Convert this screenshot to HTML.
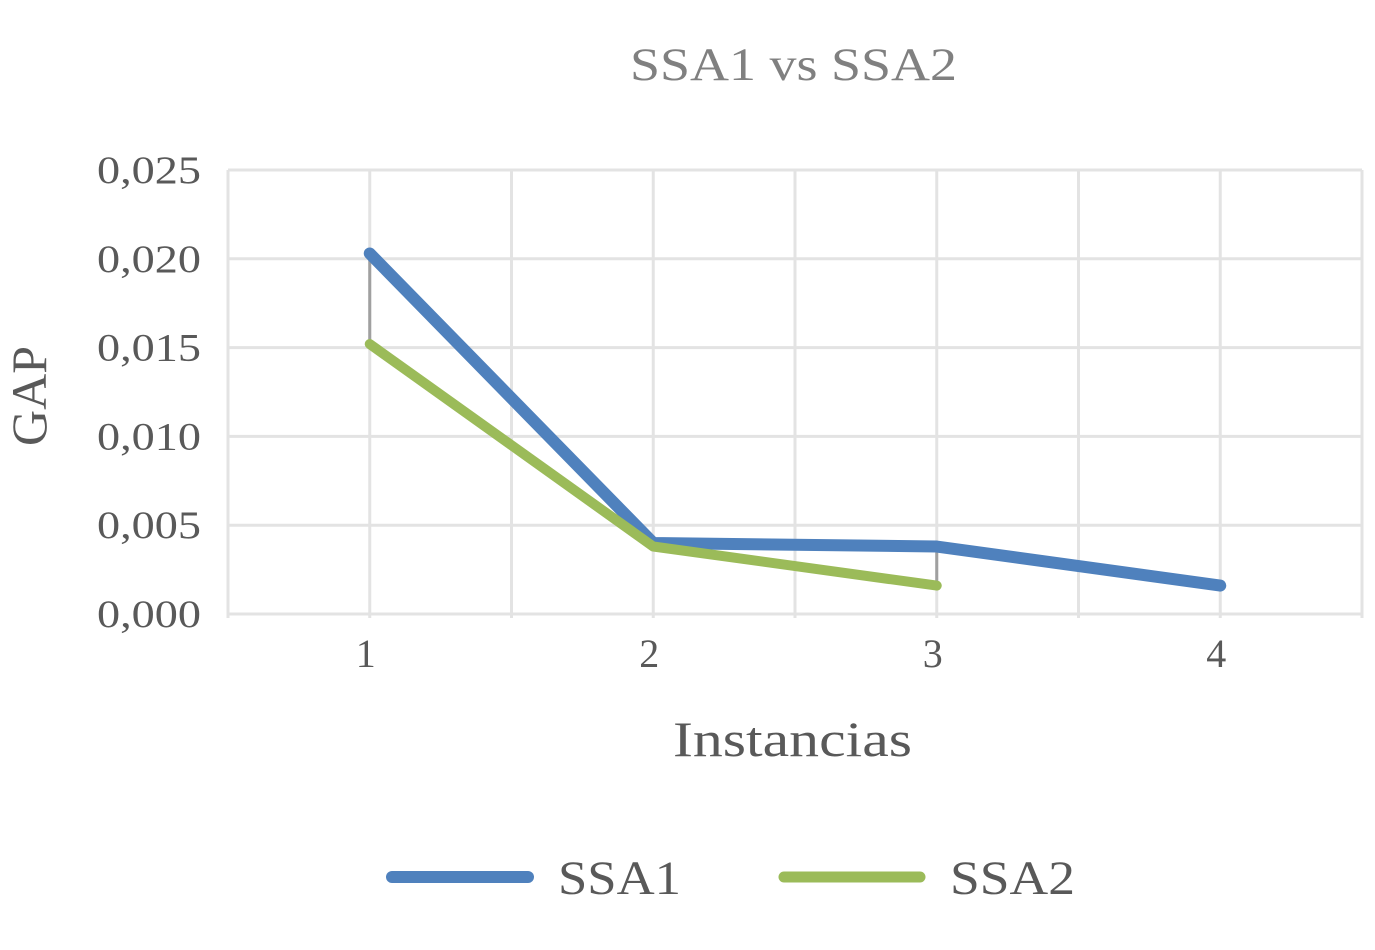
<!DOCTYPE html>
<html><head><meta charset="utf-8"><style>
html,body{margin:0;padding:0;background:#fff;}
svg text{font-family:"Liberation Serif",serif;}
</style></head><body>
<svg id="chart" width="1375" height="945" viewBox="0 0 1375 945" xmlns="http://www.w3.org/2000/svg">
<rect width="1375" height="945" fill="#fff"/>
<text x="630" y="80" font-size="47" fill="#808080" textLength="327" lengthAdjust="spacingAndGlyphs">SSA1 vs SSA2</text>
<g id="grid"></g>
<g id="ticks"></g>
<g id="hilo"></g>
<g id="series"></g>
<text transform="translate(46,396) rotate(-90)" font-size="50" fill="#595959" text-anchor="middle">GAP</text>
<text x="673" y="756" font-size="50" fill="#595959" textLength="239" lengthAdjust="spacingAndGlyphs">Instancias</text>
<g>
<line x1="392" y1="877" x2="528" y2="877" stroke="#4f81bd" stroke-width="12" stroke-linecap="round"/>
<text x="558" y="894" font-size="48" fill="#595959" textLength="123" lengthAdjust="spacingAndGlyphs">SSA1</text>
<line x1="784" y1="877" x2="920" y2="877" stroke="#9bbb59" stroke-width="11" stroke-linecap="round"/>
<text x="950" y="894" font-size="48" fill="#595959" textLength="125" lengthAdjust="spacingAndGlyphs">SSA2</text>
</g>
</svg>
<script>
const categories = ["1","2","3","4"];
const ssa1 = [0.0203, 0.0040, 0.0038, 0.0016];
const ssa2 = [0.0152, 0.0038, 0.0016, null];
const yTicks = [0, 0.005, 0.010, 0.015, 0.020, 0.025];
const yTickLabels = ["0,000","0,005","0,010","0,015","0,020","0,025"];

const NS="http://www.w3.org/2000/svg";
const L=228,R=1362,T=170,B=614,yMax=0.025;
const cw=(R-L)/categories.length;
const x=i=>L+cw*(i+0.5);
const y=v=>B-(v/yMax)*(B-T);
function mk(tag,attrs,parent){const e=document.createElementNS(NS,tag);for(const k in attrs)e.setAttribute(k,attrs[k]);document.getElementById(parent).appendChild(e);return e;}

yTicks.forEach((t,i)=>{
  const g=mk('line',{x1:L,x2:R,y1:y(t),y2:y(t),stroke:'#e3e3e3','stroke-width':3},'grid');
  
  
  const tx=mk('text',{x:97,y:y(t)+13,'font-size':39,fill:'#595959',textLength:104,lengthAdjust:'spacingAndGlyphs'},'ticks');
  tx.textContent=yTickLabels[i];
  
  
});
for(let k=0;k<=categories.length*2;k++){
  const xx=L+cw*k/2;
  const g=mk('line',{x1:xx,x2:xx,y1:T,y2:B+4,stroke:'#e3e3e3','stroke-width':3},'grid');
  
  
}
categories.forEach((c,i)=>{
  const tx=mk('text',{x:x(i)-4,y:667,'font-size':40,fill:'#595959','text-anchor':'middle'},'ticks');
  tx.textContent=c;
  
  
});
categories.forEach((c,i)=>{
  if(ssa1[i]!=null&&ssa2[i]!=null){
    const h=mk('line',{x1:x(i),x2:x(i),y1:y(ssa1[i]),y2:y(ssa2[i]),stroke:'#a0a0a0','stroke-width':3},'hilo');
    
    
  }
});
function pts(arr){return arr.map((v,i)=>v==null?null:x(i)+','+y(v)).filter(p=>p).join(' ');}
const p1=mk('polyline',{points:pts(ssa1),fill:'none',stroke:'#4f81bd','stroke-width':12,'stroke-linecap':'round','stroke-linejoin':'round'},'series');


const p2=mk('polyline',{points:pts(ssa2),fill:'none',stroke:'#9bbb59','stroke-width':10,'stroke-linecap':'round','stroke-linejoin':'round'},'series');


</script>
</body></html>
